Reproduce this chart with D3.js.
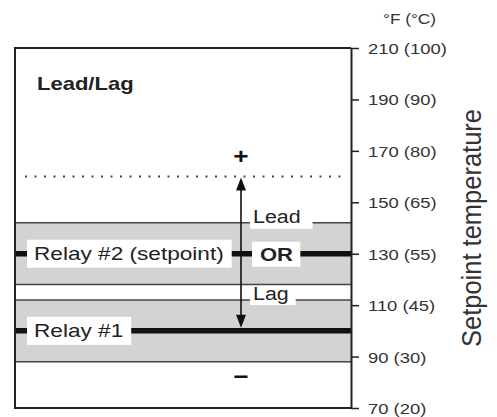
<!DOCTYPE html>
<html>
<head>
<meta charset="utf-8">
<script src="https://cdn.jsdelivr.net/npm/d3@7"></script>
<style>
  body { margin: 0; background: #fff; }
  svg { display: block; }
</style>
</head>
<body>
<svg id="chart" width="497" height="417"></svg>
<script>
// setpoint scale (deg F) and its printed labels
const tickTemps = [70, 90, 110, 130, 150, 170, 190, 210]
const tickLabels = ['70 (20)', '90 (30)', '110 (45)', '130 (55)', '150  (65)', '170 (80)', '190 (90)', '210 (100)']

// relays, their setpoints and the shaded differential band around each
const relayNames = ['Relay #1', 'Relay #2 (setpoint)']
const relayTemps = [100, 130]
const bandLow = [88, 118]
const bandHigh = [112, 142]

// band edge labels: text and the edge temperature they sit on
const edgeNames = ['Lead', 'Lag']
const edgeTemps = [142, 112]

// upper limit of the lead/lag span (dotted line)
const upperLimit = 160

const SX = 1.19   // scanned original is a bit wide, stretch text to match
const FONT = '"Liberation Sans", Arial, Helvetica, sans-serif'

const svg = d3.select('#chart')
const left = 15, right = 351

const y = d3.scaleLinear().domain([70, 210]).range([408, 48])

function addText(g, x, yy, str, size, weight = 'normal', anchor = 'start', color = '#222') {
  return g.append('text')
    .attr('transform', `translate(${x},${yy}) scale(${SX},1)`)
    .attr('font-family', FONT)
    .attr('font-size', size)
    .attr('font-weight', weight)
    .attr('text-anchor', anchor)
    .attr('fill', color)
    .text(str)
}

// white box behind a text element (box padding in screen px)
function boxBehind(g, txt, padL, padR, top, bottom) {
  const b = txt.node().getBBox()
  const t = txt.node().getCTM()
  const x0 = t.e + b.x * SX
  const x1 = x0 + b.width * SX
  g.insert('rect', () => txt.node())
    .attr('x', x0 - padL)
    .attr('y', top)
    .attr('width', x1 - x0 + padL + padR)
    .attr('height', bottom - top)
    .attr('fill', '#fff')
}

const plot = svg.append('g')

// gray differential bands
plot.selectAll('.band')
  .data(bandLow)
  .enter()
  .append('rect')
  .attr('class', 'band')
  .attr('x', left)
  .attr('width', right - left)
  .attr('y', (d, i) => y(bandHigh[i]))
  .attr('height', (d, i) => y(d) - y(bandHigh[i]))
  .attr('fill', '#d3d3d3')

// band edges
plot.selectAll('.edge')
  .data(bandLow.concat(bandHigh))
  .enter()
  .append('line')
  .attr('x1', left)
  .attr('x2', right)
  .attr('y1', d => y(d))
  .attr('y2', d => y(d))
  .attr('stroke', '#444')
  .attr('stroke-width', 1.5)

// dotted upper limit
plot.append('line')
  .attr('x1', 25)
  .attr('x2', 346)
  .attr('y1', y(upperLimit))
  .attr('y2', y(upperLimit))
  .attr('stroke', '#444')
  .attr('stroke-width', 2)
  .attr('stroke-dasharray', '2 7.5')

// relay setpoint lines
plot.selectAll('.relay')
  .data(relayTemps)
  .enter()
  .append('line')
  .attr('x1', left)
  .attr('x2', right)
  .attr('y1', d => y(d))
  .attr('y2', d => y(d))
  .attr('stroke', '#111')
  .attr('stroke-width', 5.5)

// double headed arrow from upper limit down to relay #1
const ax = 241
const yTop = y(upperLimit) + 1
const yBot = y(relayTemps[0]) - 3
plot.append('line')
  .attr('x1', ax).attr('x2', ax)
  .attr('y1', yTop + 6).attr('y2', yBot - 6)
  .attr('stroke', '#111')
  .attr('stroke-width', 1.6)
const heads = [[yTop, 13], [yBot, -13]]
plot.selectAll('.head')
  .data(heads)
  .enter()
  .append('path')
  .attr('d', d => {
    const p = d3.path()
    p.moveTo(ax, d[0])
    p.lineTo(ax - 5, d[0] + d[1])
    p.lineTo(ax + 5, d[0] + d[1])
    p.closePath()
    return p.toString()
  })
  .attr('fill', '#111')

addText(plot, ax, y(167.5) + 7, '+', 22, 'bold', 'middle', '#111')
addText(plot, ax, y(82) + 7, '\u2212', 22, 'bold', 'middle', '#111')

// labels with white boxes
const labels = svg.append('g')
relayNames.forEach((name, i) => {
  const yy = y(relayTemps[i])
  const t = addText(labels, 34, yy + 6.5, name, 19)
  boxBehind(labels, t, 7, 8, yy - 14, yy + 14)
})
const orText = addText(labels, 260, y(relayTemps[1]) + 7, 'OR', 18.5, 'bold')
boxBehind(labels, orText, 8, 7, y(relayTemps[1]) - 12, y(relayTemps[1]) + 13)

edgeNames.forEach((name, i) => {
  const yy = y(edgeTemps[i])
  const t = addText(labels, 253, yy, name, 18)
  if (i === 0) boxBehind(labels, t, 3, 12, yy - 16, yy + 6)
  else boxBehind(labels, t, 3, 7, y(bandHigh[0]) - 3, yy + 5)
})

// frame
svg.append('path')
  .attr('d', `M${right},${y(210)}H${left}V${y(70)}H${right}`)
  .attr('fill', 'none')
  .attr('stroke', '#222')
  .attr('stroke-width', 2)

addText(svg, 37, 90, 'Lead/Lag', 18.5, 'bold')

// right axis
const axis = svg.append('g')
  .attr('transform', `translate(${right},0)`)
  .call(d3.axisRight(y)
    .tickValues(tickTemps)
    .tickSize(8)
    .tickSizeOuter(0)
    .tickFormat((d, i) => tickLabels[i]))
axis.select('.domain').attr('stroke', '#222').attr('stroke-width', 2)
axis.selectAll('.tick line').attr('stroke', '#222').attr('stroke-width', 1.5)
axis.selectAll('.tick text')
  .attr('x', null)
  .attr('dy', null)
  .attr('transform', `translate(17,5.5) scale(${SX},1)`)
  .attr('font-family', FONT)
  .attr('font-size', 15.5)
  .attr('fill', '#333')

addText(svg, 383, 24, '\u00b0F (\u00b0C)', 14.5, 'normal', 'start', '#333')

// axis title
svg.append('text')
  .attr('transform', `translate(481,228) rotate(-90) scale(1,1.12)`)
  .attr('font-family', FONT)
  .attr('font-size', 25.5)
  .attr('text-anchor', 'middle')
  .attr('fill', '#333')
  .text('Setpoint temperature')
</script>
</body>
</html>
